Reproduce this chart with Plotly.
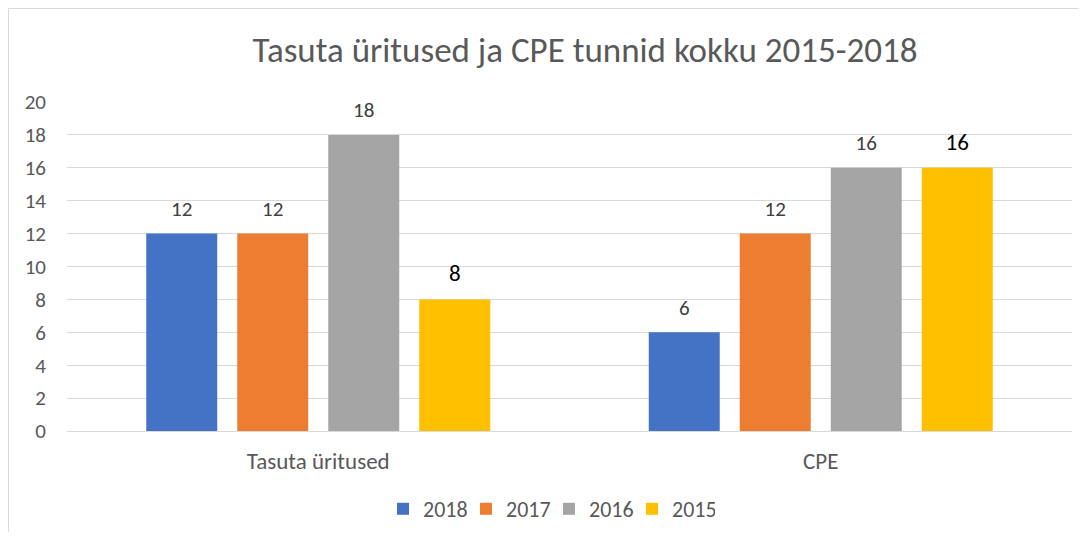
import plotly.graph_objects as go

categories = ["Tasuta üritused", "CPE"]
series_names = ["2018", "2017", "2016", "2015"]
values_2018 = [12, 6]
values_2017 = [12, 12]
values_2016 = [18, 16]
values_2015 = [8, 16]
y_ticks = [0, 2, 4, 6, 8, 10, 12, 14, 16, 18, 20]

colors = ["#4472C4", "#ED7D31", "#A5A5A5", "#FFC000"]
FONT = "Carlito, 'Liberation Sans Narrow', 'Open Sans', sans-serif"

# figure sits at (8,8) inside the page because of the body margin
W, H = 1070, 524
L, R, T, B = 59, 6, 94, 101
pw = W - L - R
ph = H - T - B
BARGAP = 0.2756

fig = go.Figure()
all_values = [values_2018, values_2017, values_2016, values_2015]
for name, vals, col in zip(series_names, all_values, colors):
    fig.add_trace(go.Bar(
        name=name, x=categories, y=vals, marker_color=col, marker_line_width=0,
    ))
for name, vals in zip(series_names, all_values):
    is_2015 = name == "2015"
    fig.add_trace(go.Scatter(
        name=name + " labels", x=categories, y=vals, mode="markers+text",
        marker=dict(size=18, color="rgba(0,0,0,0)"),
        text=[str(v) for v in vals], textposition="top center", cliponaxis=False,
        textfont=dict(size=23 if is_2015 else 21, color="#000000" if is_2015 else "#404040", family=FONT),
        showlegend=False, hoverinfo="skip",
    ))

fig.update_layout(
    width=W, height=H,
    margin=dict(l=L, r=R, t=T, b=B, autoexpand=False),
    paper_bgcolor="white", plot_bgcolor="white",
    barmode="group", bargap=BARGAP, bargroupgap=0.22,
    scattermode="group", scattergap=BARGAP,
    font=dict(family=FONT, color="#595959", size=21),
    title=dict(text="Tasuta üritused ja CPE tunnid kokku 2015-2018",
               x=(577 - L) / pw, xref="paper", xanchor="center",
               y=1 - 42 / H, yref="container", yanchor="middle",
               font=dict(size=35, color="#595959", family=FONT)),
    xaxis=dict(showgrid=False, showline=False, ticks="", ticklabelstandoff=14,
               tickfont=dict(size=23, color="#595959")),
    yaxis=dict(range=[0, 20], tickvals=y_ticks, showgrid=True, gridcolor="#D9D9D9", gridwidth=1,
               zeroline=True, zerolinecolor="#D9D9D9", zerolinewidth=1, showline=False,
               ticks="", ticklabelstandoff=20, tickfont=dict(size=21, color="#595959")),
    legend=dict(orientation="h", x=(541 - L) / pw, xanchor="center", y=-(501 - 423) / ph, yanchor="middle",
                font=dict(size=22, color="#595959"), itemwidth=30, entrywidth=38,
                entrywidthmode="pixels", traceorder="normal"),
    shapes=[
        dict(type="line", xref="paper", yref="paper",
             x0=-(L - 0.5) / pw, x1=-(L - 0.5) / pw, y0=-(B + 10) / ph, y1=1 + (T - 0.5) / ph,
             line=dict(color="#D9D9D9", width=1), layer="below"),
        dict(type="line", xref="paper", yref="paper",
             x0=-(L - 0.5) / pw, x1=1 + (R + 20) / pw, y0=1 + (T - 0.5) / ph, y1=1 + (T - 0.5) / ph,
             line=dict(color="#D9D9D9", width=1), layer="below"),
    ],
)

fig.write_html("out.html")
